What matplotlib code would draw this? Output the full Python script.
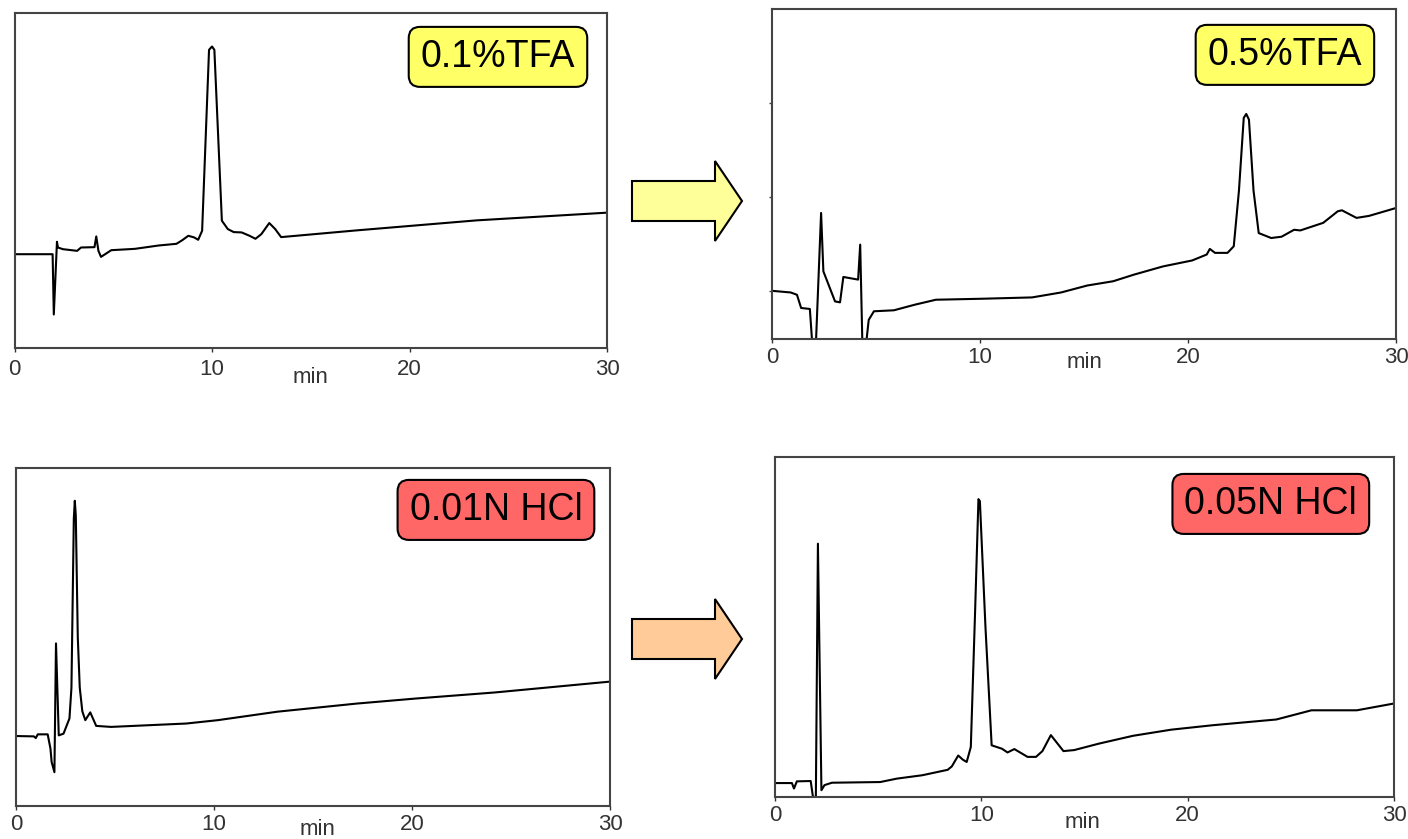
import matplotlib.pyplot as plt
from matplotlib.patches import Polygon

plt.rcParams['font.family'] = ['Liberation Sans', 'DejaVu Sans']

# chromatograms, time in min, signal in relative units (0 = axis bottom, 1 = axis top)
t_tfa01 = [0, 1.93, 1.99, 2.15, 2.2, 2.45, 3.17, 3.37, 4.05, 4.14, 4.25, 4.38, 4.9,
           6.1, 7.3, 8.2, 8.5, 8.8, 9.1, 9.3, 9.5, 9.85, 10.0, 10.12, 10.5, 10.8,
           11.1, 11.5, 11.9, 12.2, 12.5, 12.9, 13.2, 13.5, 17.3, 23.4, 30]
y_tfa01 = [0.28, 0.28, 0.10, 0.317, 0.300, 0.295, 0.290, 0.300, 0.301, 0.333, 0.29,
           0.272, 0.292, 0.296, 0.306, 0.311, 0.322, 0.335, 0.330, 0.323, 0.35, 0.89,
           0.90, 0.89, 0.38, 0.355, 0.346, 0.345, 0.335, 0.326, 0.34, 0.373, 0.355,
           0.331, 0.351, 0.381, 0.404]

t_tfa05 = [0, 0.9, 1.2, 1.4, 1.82, 1.92, 2.12, 2.36, 2.47, 3.03, 3.27, 3.43, 4.14,
           4.24, 4.34, 4.55, 4.65, 4.9, 5.86, 6.87, 7.88, 10.1, 12.5, 13.9, 15.15,
           16.4, 17.4, 18.8, 20.2, 20.9, 21.05, 21.3, 21.9, 22.2, 22.45, 22.68, 22.8,
           22.93, 23.15, 23.4, 24.0, 24.5, 25.1, 25.4, 26.5, 27.2, 27.4, 28.1, 28.7, 30]
y_tfa05 = [0.146, 0.141, 0.134, 0.094, 0.091, 0, 0, 0.382, 0.205, 0.114, 0.111, 0.188,
           0.180, 0.286, 0, 0, 0.058, 0.084, 0.087, 0.104, 0.119, 0.122, 0.126, 0.141,
           0.162, 0.175, 0.195, 0.22, 0.238, 0.256, 0.273, 0.261, 0.261, 0.281, 0.45,
           0.67, 0.682, 0.665, 0.45, 0.321, 0.306, 0.31, 0.331, 0.329, 0.352, 0.387,
           0.39, 0.367, 0.373, 0.397]

t_hcl001 = [0, 0.9, 1.0, 1.1, 1.6, 1.74, 1.8, 1.94, 2.02, 2.16, 2.4, 2.7, 2.8, 2.92,
            2.97, 3.02, 3.12, 3.22, 3.35, 3.5, 3.75, 4.05, 4.8, 8.6, 10.2, 13.2, 17.2,
            20.2, 24.2, 30]
y_hcl001 = [0.207, 0.206, 0.201, 0.212, 0.212, 0.17, 0.13, 0.10, 0.481, 0.209, 0.214,
            0.259, 0.35, 0.85, 0.903, 0.86, 0.5, 0.35, 0.28, 0.254, 0.277, 0.237, 0.234,
            0.244, 0.254, 0.279, 0.303, 0.318, 0.336, 0.368]

t_hcl005 = [0, 0.82, 0.92, 1.06, 1.73, 1.84, 1.98, 2.08, 2.25, 2.4, 2.76, 5.1, 5.9,
            7.14, 8.37, 8.57, 8.88, 9.1, 9.29, 9.49, 9.7, 9.86, 9.93, 10.2, 10.5, 11.0,
            11.27, 11.6, 12.24, 12.65, 12.96, 13.37, 13.98, 14.5, 15.7, 17.35, 19.2,
            21.2, 24.3, 26.0, 28.2, 30]
y_hcl005 = [0.041, 0.041, 0.025, 0.046, 0.047, 0, 0, 0.745, 0.02, 0.035, 0.042, 0.044,
            0.054, 0.064, 0.08, 0.09, 0.122, 0.11, 0.103, 0.147, 0.55, 0.876, 0.87, 0.5,
            0.152, 0.142, 0.131, 0.141, 0.118, 0.118, 0.135, 0.182, 0.135, 0.138, 0.157,
            0.18, 0.198, 0.211, 0.228, 0.255, 0.255, 0.275]

labels = ['0.1%TFA', '0.5%TFA', '0.01N HCl', '0.05N HCl']
label_colors = ['#ffff66', '#ffff66', '#ff6666', '#ff6666']
x_ticks = [0, 10, 20, 30]

W, H = 1408, 839
fig = plt.figure(figsize=(W / 100, H / 100), dpi=100)


def px_axes(l, t, r, b):
    return fig.add_axes([l / W, 1 - b / H, (r - l) / W, (b - t) / H])


panels = [
    (px_axes(14.5, 13, 607, 348), t_tfa01, y_tfa01, (0.816, 0.869), (0.499, -0.087), 5),
    (px_axes(772, 9, 1396, 339), t_tfa05, y_tfa05, (0.822, 0.861), (0.500, -0.070), 3),
    (px_axes(16, 468, 610, 806), t_hcl001, y_hcl001, (0.808, 0.876), (0.507, -0.071), 3),
    (px_axes(775, 457, 1394, 797), t_hcl005, y_hcl005, (0.801, 0.862), (0.496, -0.074), 3),
]

for i, (ax, t, y, lab_pos, min_pos, tpad) in enumerate(panels):
    ax.plot(t, y, color='black', lw=1.5)
    ax.set_xlim(0, 30)
    ax.set_ylim(0, 1)
    ax.set_xticks(x_ticks)
    ax.tick_params(axis='x', length=3, width=1, pad=tpad, labelsize=16,
                   colors='#333333')
    for s in ax.spines.values():
        s.set_color('#444444')
        s.set_linewidth(1.5)
    if i == 1:
        ax.set_yticks([0.145, 0.43, 0.715])
        ax.tick_params(axis='y', length=2, width=1, labelleft=False, colors='#444444')
    else:
        ax.set_yticks([])
    ax.text(min_pos[0], min_pos[1], 'min', transform=ax.transAxes, ha='center',
            va='center', fontsize=16, color='#333333')
    ax.text(lab_pos[0], lab_pos[1], labels[i], transform=ax.transAxes, ha='center',
            va='center', fontsize=27, color='black',
            bbox=dict(boxstyle='round,pad=0.32,rounding_size=0.3',
                      fc=label_colors[i], ec='black', lw=1.5))

# block arrows between panels
arrow_pts = [(632, 181), (715, 181), (715, 161), (742, 201), (715, 241), (715, 221), (632, 221)]
for dy, col in [(0, '#ffff99'), (438, '#ffcc99')]:
    pts = [(x / W, 1 - (yy + dy) / H) for x, yy in arrow_pts]
    fig.patches.append(Polygon(pts, closed=True, fc=col, ec='black', lw=1.5,
                               transform=fig.transFigure))

fig.savefig('out.png', dpi=100)
